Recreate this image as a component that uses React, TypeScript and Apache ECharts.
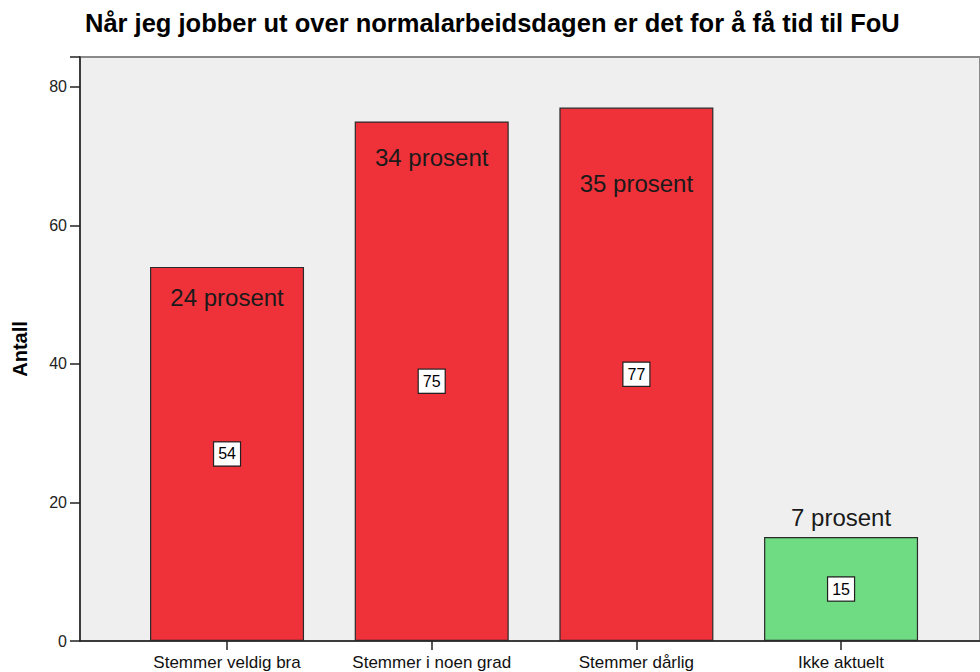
import React, { useEffect, useRef } from "react";
import * as echarts from "echarts";

const titleText = "Når jeg jobber ut over normalarbeidsdagen er det for å få tid til FoU";
const yAxisName = "Antall";
const categories = ["Stemmer veldig bra", "Stemmer i noen grad", "Stemmer dårlig", "Ikke aktuelt"];
const counts = [54, 75, 77, 15];
const percents = [24, 34, 35, 7];
const barColors = ["#ef323a", "#ef323a", "#ef323a", "#6fdb83"];
const yTicks = [0, 20, 40, 60, 80];

// label placement styling (pixel distances), not data
const percentLabelPlacement: { position: string; distance: number }[] = [
  { position: "insideTop", distance: 19 },
  { position: "insideTop", distance: 24 },
  { position: "insideTop", distance: 64 },
  { position: "top", distance: 8 },
];

const FONT = "'Liberation Sans', Arial, sans-serif";
const Y_MAX = 84.3;

export default function App() {
  const ref = useRef<HTMLDivElement>(null);
  useEffect(() => {
    if (!ref.current) return;
    const chart = echarts.init(ref.current, null, { renderer: "svg" });
    const option: any = {
      animation: false,
      backgroundColor: "#ffffff",
      textStyle: { fontFamily: FONT },
      title: {
        text: titleText,
        left: 85,
        top: 10,
        padding: 0,
        textStyle: { fontFamily: FONT, fontSize: 25.5, fontWeight: "bold", color: "#000" },
      },
      grid: [
        {
          left: 80,
          top: 57,
          width: 908,
          height: 584,
          show: true,
          backgroundColor: "#efefef",
          borderColor: "#8a8a8a",
          borderWidth: 2,
        },
        { left: 124.7, top: 57, width: 818.7, height: 584 },
      ],
      xAxis: [
        {
          gridIndex: 0,
          type: "value",
          min: 0,
          max: 1,
          axisLine: { show: true, lineStyle: { color: "#222", width: 1.5 } },
          axisTick: { show: false },
          axisLabel: { show: false },
          splitLine: { show: false },
        },
        {
          gridIndex: 1,
          type: "category",
          data: categories,
          axisLine: { show: false },
          axisTick: {
            show: true,
            alignWithLabel: true,
            interval: 0,
            length: 9,
            lineStyle: { color: "#222", width: 1.5 },
          },
          axisLabel: {
            interval: 0,
            hideOverlap: false,
            fontSize: 17,
            color: "#111",
            margin: 13,
            fontFamily: FONT,
          },
        },
      ],
      yAxis: [
        {
          gridIndex: 0,
          type: "value",
          min: 0,
          max: Y_MAX,
          interval: 20,
          axisLine: { show: true, lineStyle: { color: "#222", width: 1.5 } },
          axisTick: { show: true, length: 10, lineStyle: { color: "#222", width: 1.5 } },
          axisLabel: {
            fontSize: 16,
            color: "#222",
            margin: 13,
            fontFamily: FONT,
            formatter: (v: number) => (yTicks.includes(v) ? String(v) : ""),
          },
          splitLine: { show: false },
          name: yAxisName,
          nameLocation: "middle",
          nameRotate: 90,
          nameGap: 50,
          nameTextStyle: { fontSize: 20, fontWeight: "bold", color: "#000", fontFamily: FONT },
        },
        { gridIndex: 1, type: "value", min: 0, max: Y_MAX, show: false },
      ],
      series: [
        {
          type: "bar",
          xAxisIndex: 1,
          yAxisIndex: 1,
          barWidth: 154,
          data: counts.map((v, i) => ({
            value: v,
            itemStyle: { color: barColors[i], borderColor: "#2a2a2a", borderWidth: 1.2 },
          })),
          label: {
            show: true,
            position: "inside",
            formatter: "{c}",
            fontSize: 16,
            color: "#000",
            fontFamily: FONT,
            backgroundColor: "#ffffff",
            borderColor: "#222",
            borderWidth: 1.2,
            padding: [4, 4, 3, 4],
          },
        },
        {
          type: "bar",
          xAxisIndex: 1,
          yAxisIndex: 1,
          barWidth: 154,
          barGap: "-100%",
          silent: true,
          itemStyle: { color: "transparent" },
          data: counts.map((v, i) => ({
            value: v,
            label: {
              show: true,
              position: percentLabelPlacement[i].position,
              distance: percentLabelPlacement[i].distance,
              formatter: `${percents[i]} prosent`,
              fontSize: 24,
              color: "#1a1a1a",
              fontFamily: FONT,
            },
          })),
        },
      ],
    };
    chart.setOption(option);
    return () => chart.dispose();
  }, []);
  return (
    <div
      ref={ref}
      style={{ position: "absolute", left: 0, top: 0, width: 980, height: 672 }}
    />
  );
}
